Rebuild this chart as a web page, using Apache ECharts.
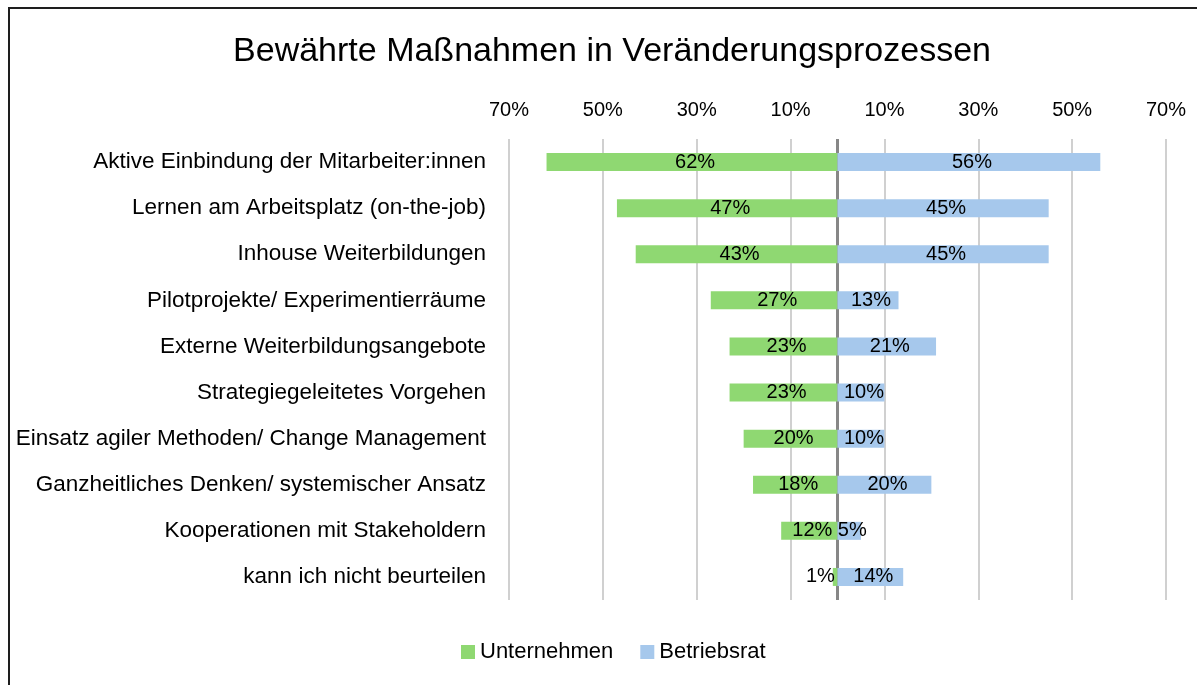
<!DOCTYPE html>
<html>
<head>
<meta charset="utf-8">
<script src="https://cdn.jsdelivr.net/npm/echarts@6/dist/echarts.min.js"></script>
<style>
html, body { margin: 0; padding: 0; background: #fff; overflow: hidden; }
.wrap { position: relative; width: 1197px; height: 685px; overflow: hidden; }
#chart { width: 1197px; height: 685px; }
.frame { position: absolute; left: 8px; top: 7px; width: 1220px; height: 720px; border: 2px solid #1e1e1e; pointer-events: none; }
</style>
</head>
<body>
<div class="wrap">
  <div id="chart"></div>
  <div class="frame"></div>
</div>
<script>
const title = 'Bewährte Maßnahmen in Veränderungsprozessen'
const categories = [
  'Aktive Einbindung der Mitarbeiter:innen',
  'Lernen am Arbeitsplatz (on-the-job)',
  'Inhouse Weiterbildungen',
  'Pilotprojekte/ Experimentierräume',
  'Externe Weiterbildungsangebote',
  'Strategiegeleitetes Vorgehen',
  'Einsatz agiler Methoden/ Change Management',
  'Ganzheitliches Denken/ systemischer Ansatz',
  'Kooperationen mit Stakeholdern',
  'kann ich nicht beurteilen'
]
const unternehmen = [62, 47, 43, 27, 23, 23, 20, 18, 12, 1]
const betriebsrat = [56, 45, 45, 13, 21, 10, 10, 20, 5, 14]
const axisMin = -70
const axisMax = 70
const axisStep = 20

const font = 'Liberation Sans'
let ch = echarts.init(document.getElementById('chart'))

let pct = v => Math.abs(v) + '%'

let barLabel = {
  show: true,
  position: 'inside',
  offset: [3, 0],
  formatter: p => pct(p.value),
  fontFamily: font,
  fontSize: 20,
  color: '#000'
}

let option = {
  animation: false,
  textStyle: { fontFamily: font },
  title: {
    text: title,
    left: 612,
    top: 35,
    padding: 0,
    textAlign: 'center',
    textStyle: { fontFamily: font, fontSize: 34, fontWeight: 'normal', color: '#000' }
  },
  legend: {
    data: ['Unternehmen', 'Betriebsrat'],
    left: 461,
    top: 641,
    padding: 0,
    icon: 'rect',
    itemWidth: 14,
    itemHeight: 14,
    itemGap: 27,
    textStyle: { fontFamily: font, fontSize: 22, color: '#000' }
  },
  grid: {
    left: 509,
    right: 31,
    top: 139,
    bottom: 85
  },
  xAxis: {
    type: 'value',
    position: 'top',
    min: axisMin,
    max: axisMax,
    interval: axisStep,
    axisLine: { show: false },
    axisTick: { show: false },
    splitLine: {
      show: true,
      lineStyle: { color: '#d0d0d0', width: 2 }
    },
    axisLabel: {
      formatter: v => pct(v),
      fontFamily: font,
      fontSize: 20,
      color: '#000',
      margin: 19
    }
  },
  yAxis: {
    type: 'category',
    data: categories,
    inverse: true,
    axisLine: { show: false },
    axisTick: { show: false },
    splitLine: { show: false },
    axisLabel: {
      fontFamily: font,
      fontSize: 22.5,
      color: '#000',
      margin: 23
    }
  },
  series: [
    {
      name: 'Unternehmen',
      type: 'bar',
      stack: 'total',
      barWidth: 18,
      itemStyle: { color: '#8FD872' },
      label: barLabel,
      // tiny bars get their label outside, on the left
      data: unternehmen.map(v => v < 3
        ? { value: -v, label: { position: 'left', distance: 1 } }
        : -v)
    },
    {
      name: 'Betriebsrat',
      type: 'bar',
      stack: 'total',
      barWidth: 18,
      itemStyle: { color: '#A6C8EC' },
      label: barLabel,
      data: betriebsrat,
      markLine: {
        silent: true,
        z: 2,
        symbol: 'none',
        label: { show: false },
        lineStyle: { color: '#878787', width: 3, type: 'solid' },
        data: [{ xAxis: 0 }]
      }
    }
  ]
}
ch.setOption(option)
</script>
</body>
</html>
